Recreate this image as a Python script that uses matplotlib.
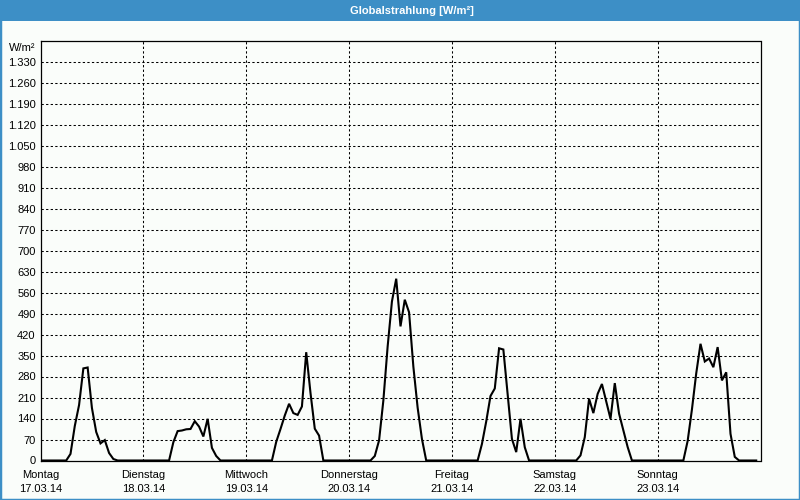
import matplotlib
matplotlib.use("Agg")
import matplotlib.pyplot as plt
import numpy as np
from matplotlib.patches import Rectangle

plt.rcParams["font.family"] = ["Liberation Sans", "DejaVu Sans"]

title = "Globalstrahlung [W/m²]"
unit = "W/m²"
day_names = ["Montag", "Dienstag", "Mittwoch", "Donnerstag", "Freitag", "Samstag", "Sonntag"]
day_dates = ["17.03.14", "18.03.14", "19.03.14", "20.03.14", "21.03.14", "22.03.14", "23.03.14"]

# hourly values (h0..h23) per day, W/m²
mon = [0, 0, 0, 0, 0, 0, 0, 22, 115, 185, 307, 310, 175, 95, 57, 68, 25, 5, 0, 0, 0, 0, 0, 0]
tue = [0, 0, 0, 0, 0, 0, 0, 61, 98, 100, 104, 105, 131, 113, 80, 139, 42, 15, 0, 0, 0, 0, 0, 0]
wed = [0, 0, 0, 0, 0, 0, 0, 62, 105, 150, 189, 158, 152, 180, 361, 225, 106, 83, 0, 0, 0, 0, 0, 0]
thu = [0, 0, 0, 0, 0, 0, 15, 67, 200, 380, 530, 606, 447, 536, 494, 313, 176, 72, 0, 0, 0, 0, 0, 0]
fri = [0, 0, 0, 0, 0, 0, 0, 55, 130, 215, 240, 374, 370, 220, 72, 28, 139, 44, 0, 0, 0, 0, 0, 0]
sat = [0, 0, 0, 0, 0, 0, 17, 78, 206, 158, 222, 255, 197, 139, 258, 156, 100, 45, 0, 0, 0, 0, 0, 0]
sun = [0, 0, 0, 0, 0, 0, 0, 65, 170, 290, 389, 330, 340, 311, 378, 267, 294, 89, 12, 0, 0, 0, 0, 0]

values = np.array(mon + tue + wed + thu + fri + sat + sun, dtype=float)
t_days = np.arange(len(values)) / 24.0

y_ticks = list(range(0, 1331, 70))
y_max = 1400

bg = "#fafdfa"
blue = "#3d8fc6"

fig = plt.figure(figsize=(8, 5), dpi=100, facecolor=bg)
ax = fig.add_axes([40.5 / 800, 1 - 460.5 / 500, 720 / 800, 420 / 500])
ax.set_facecolor(bg)

ax.plot(t_days, values, color="black", lw=1.5, solid_joinstyle="miter", zorder=3)

ax.set_xlim(0, 7)
ax.set_ylim(0, y_max)

ax.set_yticks(y_ticks)
ax.set_yticklabels([f"{v:,}".replace(",", ".") for v in y_ticks])
ax.set_xticks(range(7))
ax.set_xticklabels([f"{n}\n{d}" for n, d in zip(day_names, day_dates)], linespacing=1.5)

ax.tick_params(axis="both", length=0, labelsize=8, colors="black")
ax.tick_params(axis="y", pad=3.5)
ax.tick_params(axis="x", pad=7)

for v in y_ticks[1:]:
    ax.axhline(v, color="black", lw=0.75, ls=(0, (2.2, 2.2)), zorder=1)
for d in range(1, 7):
    ax.axvline(d, color="black", lw=0.75, ls=(0, (2.2, 2.2)), zorder=1)

for s in ax.spines.values():
    s.set_color("black")
    s.set_linewidth(0.9)

ax.text(-0.0065, 0.995, unit, transform=ax.transAxes, ha="right", va="top", fontsize=8)

# title bar and frame
fig.patches.append(Rectangle((0, 1 - 21 / 500), 1, 21 / 500, transform=fig.transFigure,
                             facecolor=blue, edgecolor="none", zorder=0))
fig.patches.append(Rectangle((0, 0), 1, 1, transform=fig.transFigure,
                             facecolor="none", edgecolor=blue, lw=2.5, zorder=0))
fig.text(0.515, 1 - 10.5 / 500, title, ha="center", va="center", color="white",
         fontsize=8, fontweight="bold")

fig.savefig("out.png", dpi=100, facecolor=bg)
